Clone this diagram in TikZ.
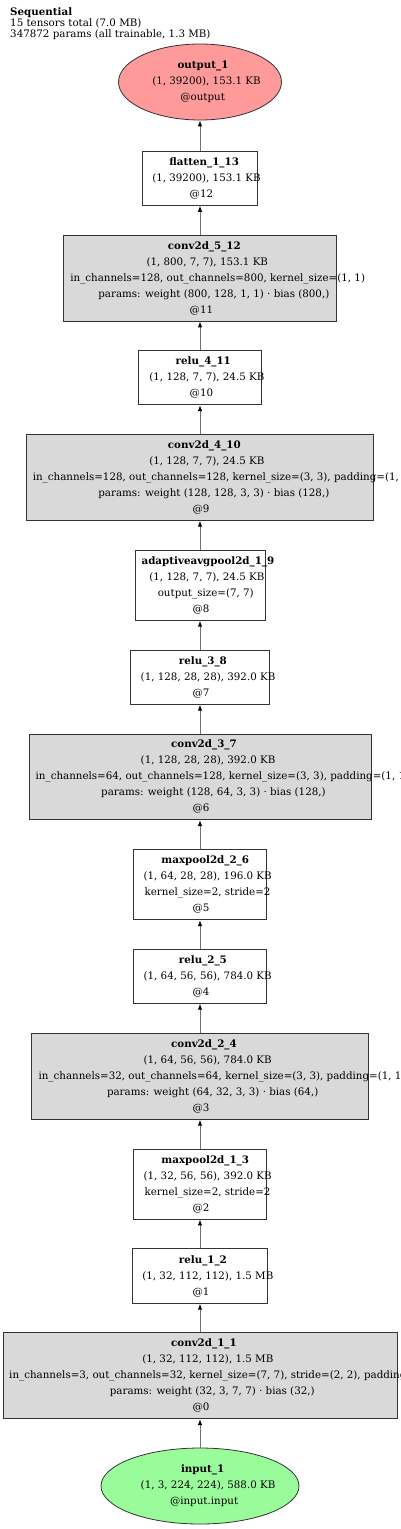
\documentclass[tikz,border=0pt]{standalone}
\usepackage{fontspec}
\setmainfont{DejaVu Serif}
\usetikzlibrary{shapes.geometric,arrows.meta}
\definecolor{outred}{HTML}{FF9A9A}
\definecolor{ingreen}{HTML}{9AFB9A}
\definecolor{opgray}{HTML}{D9D9D9}
% one label line, laid out as if it were narrower (text runs on to the right)
\newsavebox\glbox
\newcommand\gl[1]{\sbox\glbox{#1}\makebox[0.88\wd\glbox][l]{\usebox\glbox}}
\tikzset{
  opbox/.style={draw=black!80,line width=.8pt,inner sep=0pt,align=center,
    font=\fontsize{10.3}{16}\selectfont},
  tensor/.style={opbox,ellipse},
  edge/.style={draw=black!55,line width=1pt,-{Latex[length=6pt,width=4.5pt,black]}}
}
\begin{document}
\begin{tikzpicture}[x=1pt,y=-1pt]
\useasboundingbox (0,0) rectangle (400,1529);
\node[anchor=north west,inner sep=0pt,align=left,font=\fontsize{10.3}{11}\selectfont] (title) at (10,7)
  {\textbf{Sequential}\\15 tensors total (7.0 MB)\\347872 params (all trainable, 1.3 MB)};
% tensors
\node[tensor,fill=outred,minimum width=163pt,minimum height=76pt] (output) at (200,82)
  {\gl{\textbf{output\_1}}\\\gl{(1, 39200), 153.1 KB}\\\gl{@output}};
\node[tensor,fill=ingreen,minimum width=198pt,minimum height=76pt] (input) at (200,1486)
  {\gl{\textbf{input\_1}}\\\gl{(1, 3, 224, 224), 588.0 KB}\\\gl{@input.input}};
% layers
\foreach \name/\cy/\w/\h/\fc/\body in {
  flatten/178.2/114.6/54.3/white/{\gl{\textbf{flatten\_1\_13}}\\\gl{(1, 39200), 153.1 KB}\\\gl{@12}},
  convE/278.2/273/85.7/opgray/{\gl{\textbf{conv2d\_5\_12}}\\\gl{(1, 800, 7, 7), 153.1 KB}\\\gl{in\_channels=128, out\_channels=800, kernel\_size=(1, 1)}\\\gl{params: weight (800, 128, 1, 1) · bias (800,)}\\\gl{@11}},
  reluD/377.7/122.3/54/white/{\gl{\textbf{relu\_4\_11}}\\\gl{(1, 128, 7, 7), 24.5 KB}\\\gl{@10}},
  convD/477.5/346.6/85.6/opgray/{\gl{\textbf{conv2d\_4\_10}}\\\gl{(1, 128, 7, 7), 24.5 KB}\\\gl{in\_channels=128, out\_channels=128, kernel\_size=(3, 3), padding=(1, 1)}\\\gl{params: weight (128, 128, 3, 3) · bias (128,)}\\\gl{@9}},
  avgpool/585.3/130/70/white/{\gl{\textbf{adaptiveavgpool2d\_1\_9}}\\\gl{(1, 128, 7, 7), 24.5 KB}\\\gl{output\_size=(7, 7)}\\\gl{@8}},
  reluC/677.3/139/54/white/{\gl{\textbf{relu\_3\_8}}\\\gl{(1, 128, 28, 28), 392.0 KB}\\\gl{@7}},
  convC/776.8/342/85.7/opgray/{\gl{\textbf{conv2d\_3\_7}}\\\gl{(1, 128, 28, 28), 392.0 KB}\\\gl{in\_channels=64, out\_channels=128, kernel\_size=(3, 3), padding=(1, 1)}\\\gl{params: weight (128, 64, 3, 3) · bias (128,)}\\\gl{@6}},
  poolB/884.7/133.4/70/white/{\gl{\textbf{maxpool2d\_2\_6}}\\\gl{(1, 64, 28, 28), 196.0 KB}\\\gl{kernel\_size=2, stride=2}\\\gl{@5}},
  reluB/976.3/133.4/54/white/{\gl{\textbf{relu\_2\_5}}\\\gl{(1, 64, 56, 56), 784.0 KB}\\\gl{@4}},
  convB/1076.3/336.6/86/opgray/{\gl{\textbf{conv2d\_2\_4}}\\\gl{(1, 64, 56, 56), 784.0 KB}\\\gl{in\_channels=32, out\_channels=64, kernel\_size=(3, 3), padding=(1, 1)}\\\gl{params: weight (64, 32, 3, 3) · bias (64,)}\\\gl{@3}},
  poolA/1184/133.4/70/white/{\gl{\textbf{maxpool2d\_1\_3}}\\\gl{(1, 32, 56, 56), 392.0 KB}\\\gl{kernel\_size=2, stride=2}\\\gl{@2}},
  reluA/1276/135.4/54.6/white/{\gl{\textbf{relu\_1\_2}}\\\gl{(1, 32, 112, 112), 1.5 MB}\\\gl{@1}},
  convA/1375.5/394/86.4/opgray/{\gl{\textbf{conv2d\_1\_1}}\\\gl{(1, 32, 112, 112), 1.5 MB}\\\gl{in\_channels=3, out\_channels=32, kernel\_size=(7, 7), stride=(2, 2), padding=(3, 3)}\\\gl{params: weight (32, 3, 7, 7) · bias (32,)}\\\gl{@0}}}
  \node[opbox,fill=\fc,minimum width=\w pt,minimum height=\h pt] (\name) at (200,\cy) {\body};
% data flow, bottom to top
\foreach \lo/\hi in {input/convA,convA/reluA,reluA/poolA,poolA/convB,convB/reluB,reluB/poolB,
  poolB/convC,convC/reluC,reluC/avgpool,avgpool/convD,convD/reluD,reluD/convE,convE/flatten,flatten/output}
  \draw[edge] (\lo) -- (\hi);
\end{tikzpicture}
\end{document}
